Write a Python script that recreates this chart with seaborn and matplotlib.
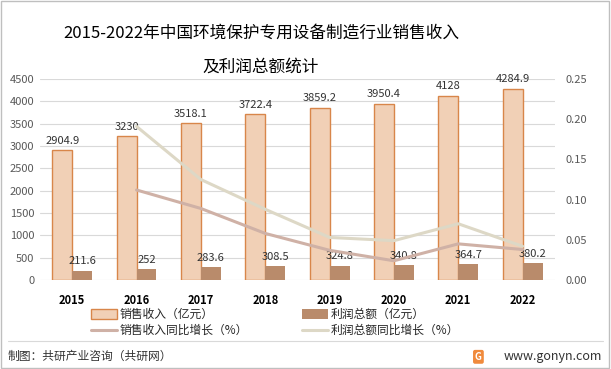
import seaborn as sns
import pandas as pd
import matplotlib.pyplot as plt
from matplotlib.patches import Patch, Rectangle
from matplotlib.lines import Line2D

# 数据
years = ['2015', '2016', '2017', '2018', '2019', '2020', '2021', '2022']
sales = [2904.9, 3230, 3518.1, 3722.4, 3859.2, 3950.4, 4128, 4284.9]
profit = [211.6, 252, 283.6, 308.5, 324.8, 340.8, 364.7, 380.2]
# 同比增长（2016年起）
sales_growth = [0.112, 0.089, 0.058, 0.037, 0.024, 0.045, 0.038]
profit_growth = [0.191, 0.125, 0.088, 0.053, 0.049, 0.070, 0.042]

sns.set_style('white')
plt.rcParams['font.family'] = ['Noto Sans CJK SC', 'DejaVu Sans']

c_sales = '#F1D0B6'
c_sales_edge = '#D8864A'
c_profit = '#B98B6B'
c_sg = '#CFB1A6'
c_pg = '#DDD8C6'

df = pd.DataFrame({
    '年份': years * 2,
    '值': sales + profit,
    '指标': ['销售收入（亿元）'] * 8 + ['利润总额（亿元）'] * 8,
})

fig = plt.figure(figsize=(6.11, 3.69), dpi=100)
ax = fig.add_axes([0.0655, 0.241, 0.8425, 0.545])

sns.barplot(data=df, x='年份', y='值', hue='指标', palette=[c_sales, c_profit],
            width=0.62, gap=0, ax=ax, legend=False, saturation=1)
for p in ax.containers[0]:
    p.set_edgecolor(c_sales_edge)
    p.set_linewidth(1)
for p in ax.containers[1]:
    p.set_edgecolor('none')

ax.bar_label(ax.containers[0], labels=[f'{v:g}' for v in sales], padding=3,
             fontsize=8, color='#333333')
ax.bar_label(ax.containers[1], labels=[f'{v:g}' for v in profit], padding=3,
             fontsize=8, color='#333333')

ax.set_ylim(0, 4500)
ax.set_yticks(range(0, 4501, 500))
ax.set_xlim(-0.5, 7.5)
ax.yaxis.grid(True, color='#D9D9D9', linewidth=0.8)
ax.set_axisbelow(True)
ax.set_xlabel('')
ax.set_ylabel('')
for s in ax.spines.values():
    s.set_visible(False)
ax.tick_params(axis='y', labelsize=8, colors='#595959', length=0, pad=4)
ax.tick_params(axis='x', labelsize=8, length=0, pad=10)
for t in ax.get_xticklabels():
    t.set_fontweight('bold')
    t.set_color('#000000')

ax2 = ax.twinx()
sns.lineplot(x=list(range(1, 8)), y=sales_growth, color=c_sg, linewidth=2.2, ax=ax2)
sns.lineplot(x=list(range(1, 8)), y=profit_growth, color=c_pg, linewidth=2.2, ax=ax2)
ax2.set_ylim(0, 0.25)
ax2.set_yticks([0, 0.05, 0.10, 0.15, 0.20, 0.25])
ax2.set_yticklabels(['0.00', '0.05', '0.10', '0.15', '0.20', '0.25'])
ax2.tick_params(axis='y', labelsize=8, colors='#595959', length=0, pad=8)
ax2.grid(False)
for s in ax2.spines.values():
    s.set_visible(False)
ax2.set_xlim(-0.5, 7.5)

fig.text(0.427, 0.91, '2015-2022年中国环境保护专用设备制造行业销售收入', ha='center',
         va='center', fontsize=12, color='#000000')
fig.text(0.427, 0.818, '及利润总额统计', ha='center', va='center', fontsize=12,
         color='#000000')

# 图例（按列填充）
handles = [
    Patch(facecolor=c_sales, edgecolor=c_sales_edge, linewidth=1),
    Line2D([], [], color=c_sg, linewidth=2.2),
    Patch(facecolor=c_profit, edgecolor='none'),
    Line2D([], [], color=c_pg, linewidth=2.2),
]
labels = ['销售收入（亿元）', '销售收入同比增长（%）', '利润总额（亿元）', '利润总额同比增长（%）']
fig.legend(handles, labels, ncol=2, loc='center left', bbox_to_anchor=(0.14, 0.126),
           frameon=False, fontsize=8.5, handlelength=2.2, handleheight=0.9,
           handletextpad=0.2, columnspacing=4.6, labelspacing=0.3, borderpad=0)

# 分隔线与底注
fig.add_artist(Line2D([0.013, 0.987], [0.075, 0.075], color='#D9D9D9', linewidth=0.8))
fig.text(0.013, 0.033, '制图：共研产业咨询（共研网）', fontsize=8.5, color='#333333',
         va='center', ha='left')
fig.text(0.985, 0.033, 'www.gonyn.com', fontsize=9, color='#333333', va='center', ha='right')
fig.text(0.783, 0.033, 'G', fontsize=7, color='white', fontweight='bold', va='center',
         ha='center', bbox=dict(boxstyle='round,pad=0.2', fc='#F08A3C', ec='none'))

# 外框
fig.add_artist(Rectangle((0.002, 0.003), 0.995, 0.993, fill=False, edgecolor='#BFBFBF',
                         linewidth=1, transform=fig.transFigure))

fig.savefig('out.png', dpi=100)
